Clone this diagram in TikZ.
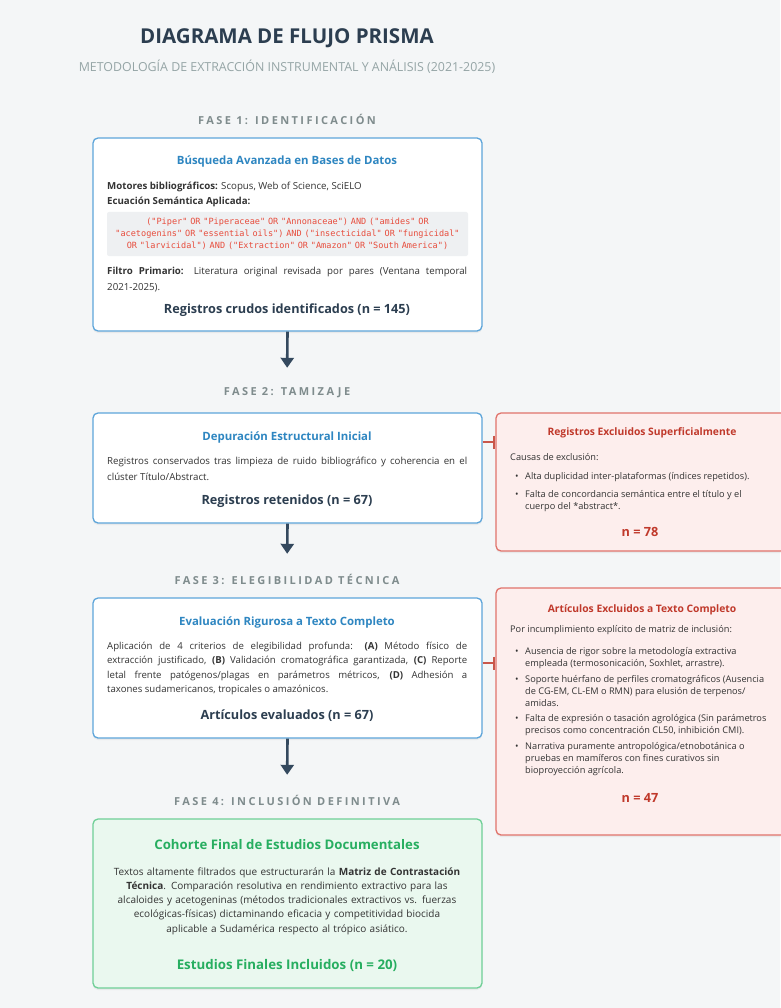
\documentclass[tikz,border=0pt]{standalone}
\usepackage{fontspec}
\setmainfont{Open Sans}
\setmonofont{DejaVu Sans Mono}
\newfontfamily\phasefont[LetterSpace=22]{Open Sans}
\usetikzlibrary{arrows.meta,shadows}
\definecolor{pagebg}{HTML}{F4F6F7}
\definecolor{inkdark}{HTML}{2C3E50}
\definecolor{inkbody}{HTML}{333333}
\definecolor{inkgray}{HTML}{95A5A6}
\definecolor{phasegray}{HTML}{7F8C8D}
\definecolor{srchline}{HTML}{5DA5DA}
\definecolor{srchhead}{HTML}{2E86C1}
\definecolor{codebg}{HTML}{EEF0F2}
\definecolor{codeink}{HTML}{E74C3C}
\definecolor{exline}{HTML}{E0736B}
\definecolor{exfill}{HTML}{FDEEED}
\definecolor{exhead}{HTML}{C0392B}
\definecolor{inline}{HTML}{6FCF97}
\definecolor{infill}{HTML}{EAF8EF}
\definecolor{inhead}{HTML}{27AE60}
\definecolor{flowdark}{HTML}{34495E}
\newcommand{\bul}[1]{\makebox[10pt][l]{\textbullet}\parbox[t]{290pt}{\raggedright #1}}
\begin{document}
\begin{tikzpicture}[x=1pt, y=-1pt, >=Latex,
    font=\fontsize{9.7}{15}\selectfont,
    box/.style={draw, line width=1.3pt, rounded corners=5pt, inner sep=0pt,
      drop shadow={opacity=0.10, shadow xshift=0pt, shadow yshift=-2pt}},
    srch/.style={box, draw=srchline, fill=white, minimum width=389pt},
    excl/.style={box, draw=exline, fill=exfill, minimum width=292pt},
    incl/.style={box, draw=inline, fill=infill, minimum width=389pt},
    phase/.style={font=\phasefont\bfseries\fontsize{11}{13}\selectfont, text=phasegray,
      minimum height=14pt, inner sep=0pt},
    head/.style={font=\bfseries\fontsize{11.4}{14}\selectfont, inner sep=0pt},
    body/.style={anchor=base west, inner sep=0pt, text width=360pt, align=justify, text=inkbody},
    note/.style={anchor=base west, inner sep=0pt, text=inkbody, font=\fontsize{9.2}{12}\selectfont},
    tally/.style={font=\bfseries\fontsize{12.7}{15}\selectfont, inner sep=0pt},
    flow/.style={-{Triangle[width=13pt,length=10pt]}, line width=2.6pt, draw=flowdark, shorten >=18pt},
    cut/.style={-{Bar[width=13pt]}, line width=2pt, draw=exhead!85}]

  \fill[pagebg] (0,0) rectangle (780,1008);
  \useasboundingbox (0,0) rectangle (780,1008);

  % encabezado
  \node[font=\bfseries\fontsize{20.5}{24}\selectfont, text=inkdark] (titulo) at (287,38) {DIAGRAMA DE FLUJO PRISMA};
  \node[font=\fontsize{12.4}{14}\selectfont, text=inkgray] (subtitulo) at (287,67)
    {METODOLOGÍA DE EXTRACCIÓN INSTRUMENTAL Y ANÁLISIS (2021-2025)};

  % fases
  \node[phase] (f1) at (287,119) {FASE 1: IDENTIFICACIÓN};
  \node[phase] (f2) at (287,393) {FASE 2: TAMIZAJE};
  \node[phase] (f3) at (287,579) {FASE 3: ELEGIBILIDAD TÉCNICA};
  \node[phase] (f4) at (287,800) {FASE 4: INCLUSIÓN DEFINITIVA};

  % fase 1
  \node[srch, minimum height=193pt] (b1) at (287.5,234.5) {};
  \node[head, text=srchhead] (b1h) at (287,162) {Búsqueda Avanzada en Bases de Datos};
  \node[body] (b1m) at (107,190)
    {\textbf{Motores bibliográficos:} Scopus, Web of Science, SciELO\\
     \textbf{Ecuación Semántica Aplicada:}};
  \node[fill=codebg, rounded corners=2pt, minimum width=361pt, minimum height=44pt, inner sep=0pt,
        text width=358pt, align=center, text=codeink, font=\ttfamily\fontsize{8.55}{12}\selectfont]
    (b1c) at (287.5,234)
    {("Piper" OR "Piperaceae" OR "Annonaceae") AND ("amides" OR\\
     "acetogenins" OR "essential oils") AND ("insecticidal" OR "fungicidal"\\
     OR "larvicidal") AND ("Extraction" OR "Amazon" OR "South America")};
  \node[body, font=\fontsize{9.7}{16}\selectfont] (b1f) at (107,274)
    {\textbf{Filtro Primario:} Literatura original revisada por pares (Ventana temporal\linebreak 2021-2025).};
  \node[tally, text=inkdark] (b1n) at (287,310) {Registros crudos identificados (n = 145)};

  % fase 2
  \node[srch, minimum height=110pt] (b2) at (287.5,468) {};
  \node[head, text=srchhead] (b2h) at (287,437) {Depuración Estructural Inicial};
  \node[body, font=\fontsize{9.7}{16}\selectfont] (b2t) at (107,464)
    {Registros conservados tras limpieza de ruido bibliográfico y coherencia en el\linebreak clúster Título/Abstract.};
  \node[tally, text=inkdark] (b2n) at (287,501) {Registros retenidos (n = 67)};

  \node[excl, minimum height=138pt] (e1) at (642,482) {};
  \node[head, font=\bfseries\fontsize{10.3}{12}\selectfont, text=exhead] (e1h) at (642,433) {Registros Excluidos Superficialmente};
  \node[note] (e1a) at (510,460) {Causas de exclusión:};
  \node[note] (e1b) at (515,479) {\bul{Alta duplicidad inter-plataformas (índices repetidos).}};
  \node[note] (e1c) at (515,497) {\bul{Falta de concordancia semántica entre el título y el\\cuerpo del *abstract*.}};
  \node[tally, text=exhead] (e1n) at (640,532) {n = 78};

  % fase 3
  \node[srch, minimum height=140pt] (b3) at (287.5,668) {};
  \node[head, text=srchhead] (b3h) at (287,622) {Evaluación Rigurosa a Texto Completo};
  \node[body, font=\fontsize{9.6}{14.5}\selectfont] (b3t) at (107,649)
    {Aplicación de 4 criterios de elegibilidad profunda: \textbf{(A)} Método físico de\linebreak
     extracción justificado, \textbf{(B)} Validación cromatográfica garantizada, \textbf{(C)} Reporte\linebreak
     letal frente patógenos/plagas en parámetros métricos, \textbf{(D)} Adhesión a\linebreak
     taxones sudamericanos, tropicales o amazónicos.};
  \node[tally, text=inkdark] (b3n) at (287,716) {Artículos evaluados (n = 67)};

  \node[excl, minimum height=247pt] (e2) at (642,711.5) {};
  \node[head, font=\bfseries\fontsize{10.3}{12}\selectfont, text=exhead] (e2h) at (642,610) {Artículos Excluidos a Texto Completo};
  \node[note] (e2a) at (510,632) {Por incumplimiento explícito de matriz de inclusión:};
  \node[note] (e2b) at (515,654) {\bul{Ausencia de rigor sobre la metodología extractiva\\empleada (termosonicación, Soxhlet, arrastre).}};
  \node[note] (e2c) at (515,682) {\bul{Soporte huérfano de perfiles cromatográficos (Ausencia\\de CG-EM, CL-EM o RMN) para elusión de terpenos/\\amidas.}};
  \node[note] (e2d) at (515,721) {\bul{Falta de expresión o tasación agrológica (Sin parámetros\\precisos como concentración CL50, inhibición CMI).}};
  \node[note] (e2e) at (515,749) {\bul{Narrativa puramente antropológica/etnobotánica o\\pruebas en mamíferos con fines curativos sin\\bioproyección agrícola.}};
  \node[tally, text=exhead] (e2n) at (640,798) {n = 47};

  % fase 4
  \node[incl, minimum height=169pt] (b4) at (287.5,903.5) {};
  \node[head, font=\bfseries\fontsize{13.2}{16}\selectfont, text=inhead] (b4h) at (287,845) {Cohorte Final de Estudios Documentales};
  \node[anchor=base, inner sep=0pt, text width=370pt, align=center, text=inkbody,
        font=\fontsize{10}{14.3}\selectfont] (b4t) at (287,875)
    {Textos altamente filtrados que estructurarán la \textbf{Matriz de Contrastación}\\
     \textbf{Técnica}. Comparación resolutiva en rendimiento extractivo para las\\
     alcaloides y acetogeninas (métodos tradicionales extractivos vs. fuerzas\\
     ecológicas-físicas) dictaminando eficacia y competitividad biocida\\
     aplicable a Sudamérica respecto al trópico asiático.};
  \node[tally, font=\bfseries\fontsize{13.3}{16}\selectfont, text=inhead] (b4n) at (287,965) {Estudios Finales Incluidos (n = 20)};

  % conectores
  \draw[flow] (b1.south) -- (f2.north);
  \draw[flow] (b2.south) -- (f3.north);
  \draw[flow] (b3.south) -- (f4.north);
  \draw[cut] ([yshift=26pt]b2.east) -- ([yshift=26pt]b2.east -| e1.west);
  \draw[cut] ([yshift=5pt]b3.east) -- ([yshift=5pt]b3.east -| e2.west);
\end{tikzpicture}
\end{document}
